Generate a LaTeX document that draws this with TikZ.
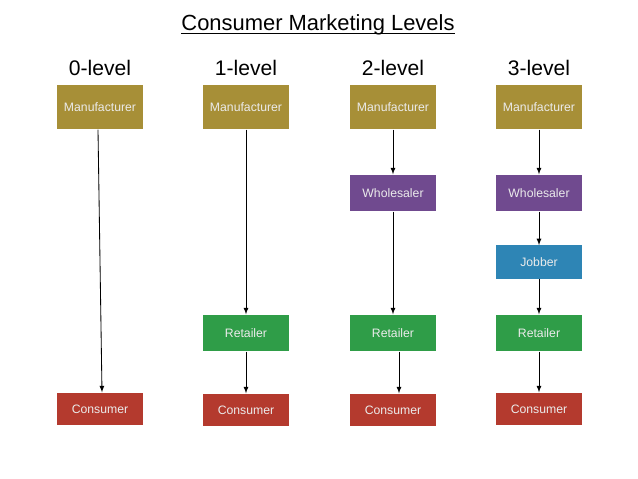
\documentclass[tikz,border=0pt]{standalone}
\usepackage{fontspec}
\setmainfont{Liberation Sans}
\usetikzlibrary{arrows,shapes}
\definecolor{manu}{RGB}{167,143,55}
\definecolor{whole}{RGB}{112,74,143}
\definecolor{jobb}{RGB}{46,133,181}
\definecolor{retail}{RGB}{47,157,72}
\definecolor{cons}{RGB}{180,58,46}
\begin{document}
\begin{tikzpicture}[x=0.025cm, y=-0.025cm,
    box/.style={text=white!92!black, font=\fontsize{8.7}{10}\selectfont,
      minimum width=2.15cm, inner sep=0pt},
    manubox/.style={box, fill=manu, minimum height=1.12cm},
    wholebox/.style={box, fill=whole, minimum height=0.92cm},
    jobbbox/.style={box, fill=jobb, minimum height=0.83cm},
    retailbox/.style={box, fill=retail, minimum height=0.92cm},
    consbox/.style={box, fill=cons, minimum height=0.82cm},
    level/.style={anchor=base, font=\fontsize{15}{18}\selectfont},
    arr/.style={-latex, line width=0.6pt}]
    \useasboundingbox (0,0) rectangle (638,479);
    \node[anchor=base, inner xsep=0pt, font=\fontsize{15.6}{20}\selectfont] (title) at (318,31)
        {Consumer Marketing Levels};
    \draw[line width=0.75pt] ([yshift=-0.07cm]title.base west) -- ([yshift=-0.07cm]title.base east);
    \node[level] (l0) at (100,76) {0-level};
    \node[level] (l1) at (246,76) {1-level};
    \node[level] (l2) at (393,76) {2-level};
    \node[level] (l3) at (539,76) {3-level};
    \node[manubox] (m0) at (100,107) {Manufacturer};
    \node[manubox] (m1) at (246,107) {Manufacturer};
    \node[manubox] (m2) at (393,107) {Manufacturer};
    \node[manubox] (m3) at (539,107) {Manufacturer};
    \node[wholebox] (w2) at (393,193) {Wholesaler};
    \node[wholebox] (w3) at (539,193) {Wholesaler};
    \node[jobbbox] (j3) at (539,262) {Jobber};
    \node[retailbox] (r1) at (246,333) {Retailer};
    \node[retailbox] (r2) at (393,333) {Retailer};
    \node[retailbox] (r3) at (539,333) {Retailer};
    \node[consbox] (c0) at (100,409) {Consumer};
    \node[consbox] (c1) at (246,410) {Consumer};
    \node[consbox] (c2) at (393,410) {Consumer};
    \node[consbox] (c3) at (539,409) {Consumer};
    \draw[arr] ([xshift=-0.05cm]m0.south) -- ([xshift=0.05cm]c0.north);
    \draw[arr] (m1) -- (r1);
    \draw[arr] (r1) -- (c1);
    \draw[arr] (m2) -- (w2);
    \draw[arr] (w2) -- (r2);
    \draw[arr] ([xshift=0.15cm]r2.south) -- ([xshift=0.15cm]c2.north);
    \draw[arr] (m3) -- (w3);
    \draw[arr] (w3) -- (j3);
    \draw[arr] (j3) -- (r3);
    \draw[arr] (r3) -- (c3);
\end{tikzpicture}
\end{document}
